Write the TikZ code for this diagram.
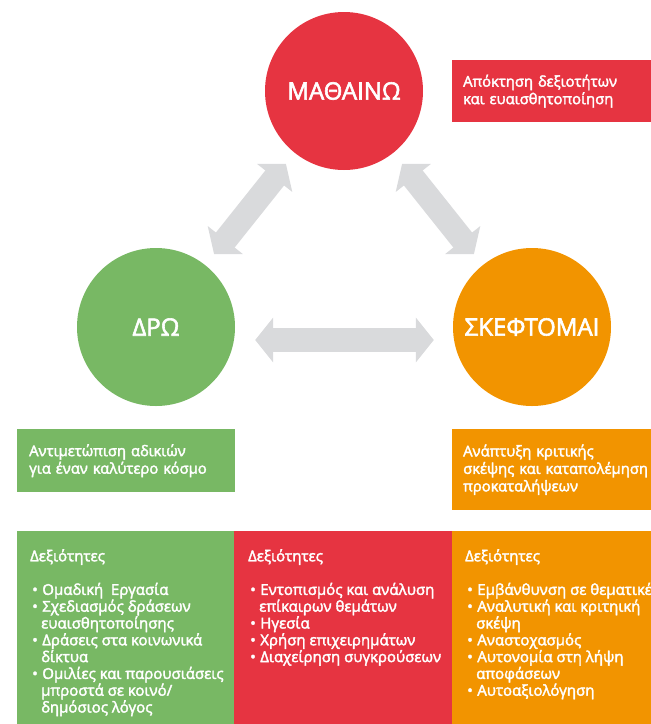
\documentclass[tikz,border=0pt]{standalone}
\usepackage{fontspec}
\setmainfont{Open Sans}
\newfontfamily\semifont{Open Sans}[FakeBold=2.5]
\usetikzlibrary{positioning}
\usetikzlibrary{arrows.meta}
\definecolor{learnred}{RGB}{230,52,65}
\definecolor{dogreen}{RGB}{120,184,100}
\definecolor{thinkorange}{RGB}{242,148,0}
\definecolor{arrowgray}{RGB}{217,218,220}
\newcommand{\bul}{\hspace*{2pt}•\hspace{4.5pt}}
\newcommand{\cont}{\hspace*{11pt}}
\tikzset{
	every node/.style = {font=\semifont\fontsize{15}{16.8}\selectfont, text=white},
	bigcircle/.style = {circle, minimum size=158pt, inner sep=0pt, font=\semifont\fontsize{24}{28}\selectfont},
	infobox/.style = {anchor=north west, align=left, inner xsep=11pt, inner ysep=0pt, font=\semifont\fontsize{14.8}{17.5}\selectfont},
	skilltext/.style = {anchor=north west, align=left, inner sep=0pt},
	twoway/.style = {draw=arrowgray, line width=24pt, {Triangle[width=44pt,length=18pt]}-{Triangle[width=44pt,length=18pt]}}
}

\begin{document}
\begin{tikzpicture}[x=1pt, y=-1pt]
		\useasboundingbox (0,0) rectangle (651,724);
		% circles
		\node[bigcircle, fill=learnred] (learn) at (344,91) {ΜΑΘΑΙΝΩ};
		\node[bigcircle, fill=dogreen] (do) at (156,327) {ΔΡΩ};
		\node[bigcircle, fill=thinkorange] (think) at (532,327) {ΣΚΕΦΤΟΜΑΙ};
		
		% arrows
		\draw[twoway, shorten <=14pt, shorten >=14pt] (do) -- (learn);
		\draw[twoway, shorten <=14pt, shorten >=14pt] (think) -- (learn);
		\draw[twoway, shorten <=20pt, shorten >=19pt] ([yshift=-13pt]do.east) -- ([yshift=-13pt]think.west);
		
		% aims
		\node[infobox, fill=learnred, minimum height=62pt, text width=186pt] (learnaim) at (452,60)
			{Απόκτηση δεξιοτήτων\\και ευαισθητοποίηση};
		\node[infobox, fill=dogreen, minimum height=63pt, text width=194pt, inner xsep=12pt] (doaim) at (17,429)
			{Αντιμετώπιση αδικιών\\για έναν καλύτερο κόσμο};
		\node[infobox, fill=thinkorange, minimum height=81pt, text width=186pt] (thinkaim) at (452,429)
			{Ανάπτυξη κριτικής\\σκέψης και καταπολέμηση\\προκαταλήψεων};
		
		% skills
		\fill[dogreen] (17,531) rectangle (234,724);
		\fill[learnred] (234,531) rectangle (452,724);
		\fill[thinkorange] (452,531) rectangle (660,724);
		
		\node[skilltext] (doskills) at (30,549) {Δεξιότητες\\[16.8pt]
			\bul Ομαδική\ \ Εργασία\\
			\bul Σχεδιασμός δράσεων\\
			\cont ευαισθητοποίησης\\
			\bul Δράσεις στα κοινωνικά\\
			\cont δίκτυα\\
			\bul Ομιλίες και παρουσιάσεις\\
			\cont μπροστά σε κοινό/\\
			\cont δημόσιος λόγος};
		\node[skilltext] (learnskills) at (248,549) {Δεξιότητες\\[16.8pt]
			\bul Εντοπισμός και ανάλυση\\
			\cont επίκαιρων θεμάτων\\
			\bul Ηγεσία\\
			\bul Χρήση επιχειρημάτων\\
			\bul Διαχείρηση συγκρούσεων};
		\node[skilltext] (thinkskills) at (465,549) {Δεξιότητες\\[16.8pt]
			\bul Εμβάνθυνση σε θεματικές\\
			\bul Αναλυτική και κριτηική\\
			\cont σκέψη\\
			\bul Αναστοχασμός\\
			\bul Αυτονομία στη λήψη\\
			\cont αποφάσεων\\
			\bul Αυτοαξιολόγηση};
	\end{tikzpicture}
\end{document}
